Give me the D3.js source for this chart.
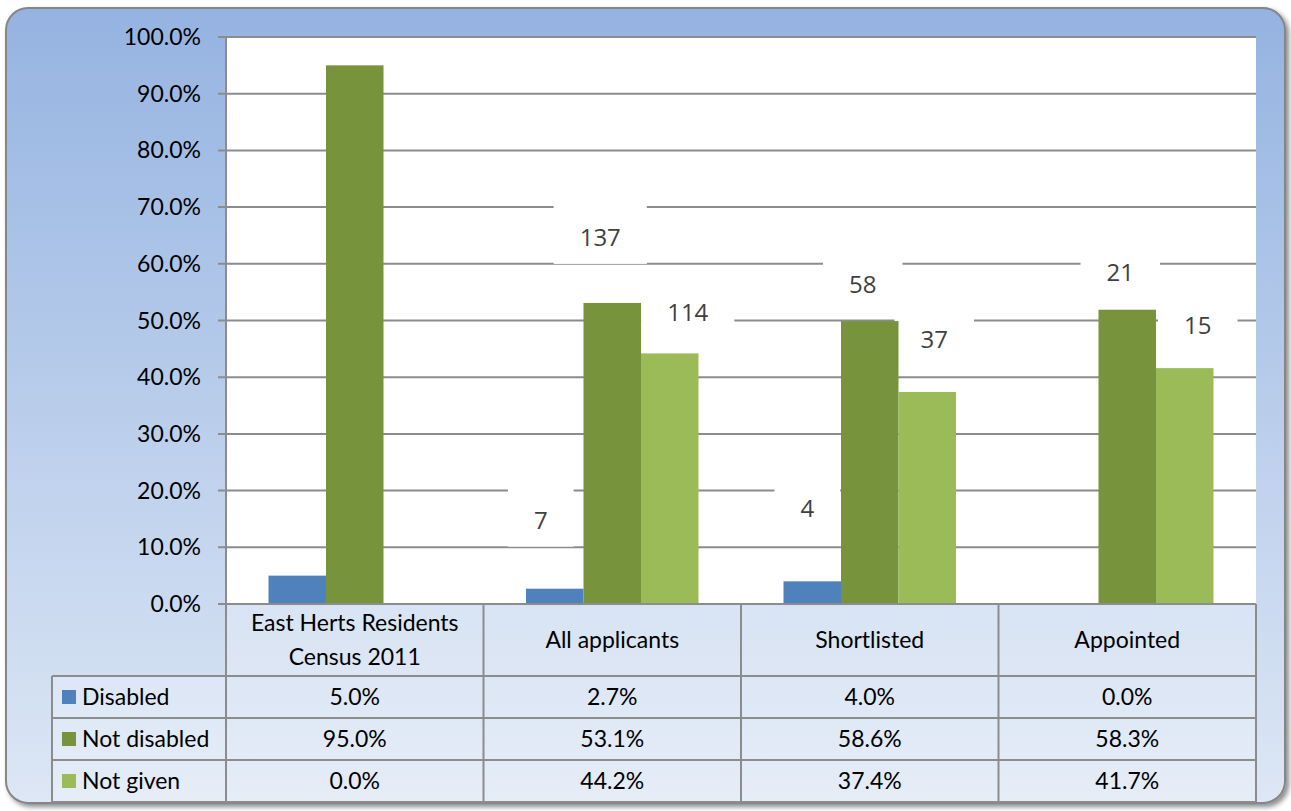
<!DOCTYPE html>
<html>
<head>
<meta charset="utf-8">
<script src="https://cdn.jsdelivr.net/npm/d3@7"></script>
<style>
  body { margin: 0; background: #fff; }
  svg { display: block; }
</style>
</head>
<body>
<svg id="chart" width="1291" height="811"></svg>
<script>
// categories + series
var categories = ["East Herts Residents\nCensus 2011", "All applicants", "Shortlisted", "Appointed"];
var seriesNames = ["Disabled", "Not disabled", "Not given"];
var seriesColors = ["#4f81bd", "#77933c", "#9bbb59"];

// bar heights as drawn (percent)
var disabledVals = [5.0, 2.7, 4.0, 0.0];
var notDisabledVals = [95.0, 53.1, 49.9, 51.9];
var notGivenVals = [0.0, 44.2, 37.4, 41.6];

// table text (as printed under the chart)
var disabledLabels = ["5.0%", "2.7%", "4.0%", "0.0%"];
var notDisabledLabels = ["95.0%", "53.1%", "58.6%", "58.3%"];
var notGivenLabels = ["0.0%", "44.2%", "37.4%", "41.7%"];

// counts shown as data labels (null = no label)
var disabledCounts = [null, 7, 4, null];
var notDisabledCounts = [null, 137, 58, 21];
var notGivenCounts = [null, 114, 37, 15];

var yTicks = [0, 10, 20, 30, 40, 50, 60, 70, 80, 90, 100];

var svg = d3.select("#chart");

var plot = {left: 226, right: 1256, top: 37, bottom: 604};
var rowH = 42, headH = 72, legendLeft = 52;
var fontSz = 23;

// background panel
var defs = svg.append("defs");
var grad = defs.append("linearGradient").attr("id", "bg").attr("x1", 0).attr("y1", 0).attr("x2", 0).attr("y2", 1);
grad.append("stop").attr("offset", "0%").attr("stop-color", "#95b3e1");
grad.append("stop").attr("offset", "100%").attr("stop-color", "#dde7f5");
var filt = defs.append("filter").attr("id", "shadow").attr("x", "-5%").attr("y", "-5%").attr("width", "110%").attr("height", "110%");
filt.append("feDropShadow").attr("dx", 3).attr("dy", 3).attr("stdDeviation", 2.5).attr("flood-color", "#000").attr("flood-opacity", 0.45);

svg.append("rect")
  .attr("x", 6).attr("y", 8).attr("width", 1279).attr("height", 795)
  .attr("rx", 22).attr("ry", 22)
  .attr("fill", "url(#bg)")
  .attr("stroke", "#868686").attr("stroke-width", 2)
  .attr("filter", "url(#shadow)");

// plot area
svg.append("rect")
  .attr("x", plot.left).attr("y", plot.top)
  .attr("width", plot.right - plot.left).attr("height", plot.bottom - plot.top)
  .attr("fill", "#fff");

var x = d3.scaleBand().domain(d3.range(categories.length)).range([plot.left, plot.right]);
var y = d3.scaleLinear().domain([0, 100]).range([plot.bottom, plot.top]);
var barW = x.bandwidth() * 0.2233;
var xs = d3.scaleBand().domain(d3.range(3)).range([0, barW * 3]);

// gridlines
svg.append("g").selectAll("line").data(yTicks).enter().append("line")
  .attr("x1", plot.left - 8).attr("x2", plot.right)
  .attr("y1", function(d) { return y(d); }).attr("y2", function(d) { return y(d); })
  .attr("stroke", "#8c8c8c").attr("stroke-width", 2);

// y axis tick labels
svg.append("g").selectAll("text").data(yTicks).enter().append("text")
  .attr("x", 201).attr("y", function(d) { return y(d); })
  .attr("dy", "0.35em")
  .attr("text-anchor", "end")
  .attr("font-family", "Lato, 'Liberation Sans', sans-serif")
  .attr("font-size", fontSz)
  .attr("fill", "#000")
  .text(function(d) { return d.toFixed(1) + "%"; });

// bars
var series = [disabledVals, notDisabledVals, notGivenVals];
var counts = [disabledCounts, notDisabledCounts, notGivenCounts];
// manual label nudges (px from bar centre / bar top), like dragged Excel labels
var labelNudge = [
  [null, [-14, -68], [-5, -73], null],
  [null, [-12, -65], [-7, -36], [-7, -37]],
  [null, [18, -41], [7, -52], [13, -43]]
];

var barG = svg.append("g");
series.forEach(function(vals, s) {
  barG.selectAll(".bar" + s).data(vals).enter().append("rect")
    .attr("x", function(d, i) { return x(i) + (x.bandwidth() - barW * 3) / 2 + xs(s); })
    .attr("width", barW)
    .attr("y", function(d) { return y(d); })
    .attr("height", function(d) { return y(0) - y(d); })
    .attr("fill", seriesColors[s]);
});

// data labels with white boxes
var labG = svg.append("g");
series.forEach(function(vals, s) {
  vals.forEach(function(v, i) {
    var c = counts[s][i];
    if (c === null) return;
    var n = labelNudge[s][i];
    var cx = x(i) + (x.bandwidth() - barW * 3) / 2 + xs(s) + barW / 2 + n[0];
    var cy = y(v) + n[1];
    var t = labG.append("text")
      .attr("x", cx).attr("y", cy).attr("dy", "0.35em")
      .attr("text-anchor", "middle")
      .attr("font-family", "'Open Sans', sans-serif")
      .attr("font-size", 24)
      .attr("fill", "#404040")
      .text(c);
    var tw = t.node().getComputedTextLength();
    labG.insert("rect", "text")
      .attr("x", cx - tw / 2 - 26).attr("y", cy - 32)
      .attr("width", tw + 52).attr("height", 58)
      .attr("fill", "#fff");
  });
});
// bars sit above the label boxes, texts on top
barG.raise();
labG.selectAll("text").raise();

// y axis line
svg.append("line")
  .attr("x1", plot.left).attr("x2", plot.left)
  .attr("y1", plot.top).attr("y2", plot.bottom)
  .attr("stroke", "#8c8c8c").attr("stroke-width", 2);

// data table
var tbl = svg.append("g");
var tFont = "Lato, 'Liberation Sans', sans-serif";
var tTop = plot.bottom;
var rowsTop = tTop + headH;
var tBottom = rowsTop + rowH * 3;

tbl.append("rect")
  .attr("x", plot.left).attr("y", tTop).attr("width", plot.right - plot.left).attr("height", headH)
  .attr("fill", "#fff").attr("fill-opacity", 0.25);
tbl.append("rect")
  .attr("x", legendLeft).attr("y", rowsTop).attr("width", plot.right - legendLeft).attr("height", rowH * 3)
  .attr("fill", "#fff").attr("fill-opacity", 0.25);

var lineCol = "#8c8c8c";
// horizontal lines
tbl.append("line").attr("x1", plot.left).attr("x2", plot.right).attr("y1", tTop).attr("y2", tTop)
  .attr("stroke", lineCol).attr("stroke-width", 2);
[rowsTop, rowsTop + rowH, rowsTop + rowH * 2, tBottom].forEach(function(yy) {
  tbl.append("line").attr("x1", legendLeft).attr("x2", plot.right).attr("y1", yy).attr("y2", yy)
    .attr("stroke", lineCol).attr("stroke-width", 2);
});
// vertical lines
d3.range(categories.length + 1).forEach(function(i) {
  var xx = i < categories.length ? x(i) : plot.right;
  tbl.append("line").attr("x1", xx).attr("x2", xx).attr("y1", tTop).attr("y2", tBottom)
    .attr("stroke", lineCol).attr("stroke-width", 2);
});
tbl.append("line").attr("x1", legendLeft).attr("x2", legendLeft).attr("y1", rowsTop).attr("y2", tBottom)
  .attr("stroke", lineCol).attr("stroke-width", 2);

// header labels
categories.forEach(function(c, i) {
  var lines = c.split("\n");
  var cx = x(i) + x.bandwidth() / 2;
  var t = tbl.append("text")
    .attr("x", cx)
    .attr("text-anchor", "middle")
    .attr("font-family", tFont).attr("font-size", fontSz).attr("fill", "#000");
  lines.forEach(function(l, k) {
    var yy = lines.length === 1 ? tTop + headH / 2 : tTop + headH / 2 + (k - 0.5) * 34;
    t.append("tspan").attr("x", cx).attr("y", yy).attr("dy", "0.35em").text(l);
  });
});

// rows
var rowLabels = [disabledLabels, notDisabledLabels, notGivenLabels];
rowLabels.forEach(function(labels, r) {
  var cy = rowsTop + rowH * r + rowH / 2;
  tbl.append("rect").attr("x", 62).attr("y", cy - 7).attr("width", 14).attr("height", 14)
    .attr("fill", seriesColors[r]);
  tbl.append("text").attr("x", 82).attr("y", cy).attr("dy", "0.35em")
    .attr("font-family", tFont).attr("font-size", fontSz).attr("fill", "#000")
    .text(seriesNames[r]);
  tbl.selectAll(".cell" + r).data(labels).enter().append("text")
    .attr("x", function(d, i) { return x(i) + x.bandwidth() / 2; })
    .attr("y", cy).attr("dy", "0.35em")
    .attr("text-anchor", "middle")
    .attr("font-family", tFont).attr("font-size", fontSz).attr("fill", "#000")
    .text(function(d) { return d; });
});
</script>
</body>
</html>
